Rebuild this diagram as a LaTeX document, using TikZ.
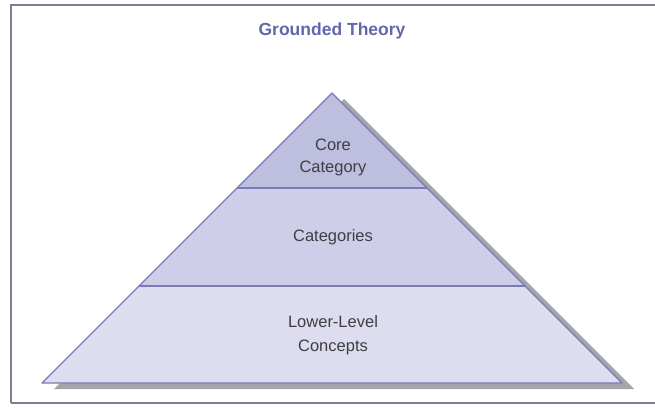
\documentclass[tikz,border=0pt]{standalone}
\usepackage{fontspec}
\setmainfont{Liberation Sans}
\usepackage{tikz}

\definecolor{edgeblue}{RGB}{122,122,182}
\definecolor{titleblue}{RGB}{98,102,172}
\definecolor{coreFill}{RGB}{190,190,222}
\definecolor{catFill}{RGB}{206,206,232}
\definecolor{lowFill}{RGB}{221,221,239}
\definecolor{shadowgray}{RGB}{164,164,170}
\definecolor{textgray}{RGB}{62,62,68}
\definecolor{framegray}{RGB}{125,125,150}

\begin{document}
\begin{tikzpicture}[x=1pt, y=-1pt]
		\useasboundingbox (0,0) rectangle (655,408);
		\draw[framegray, line width=1.4pt] (11,403) -- (11,5) -- (670,5);
		\draw[framegray, line width=1.4pt] (11,403) -- (670,403);
		
		\coordinate (apex) at (332,93);
		\coordinate (cl) at (237,188);
		\coordinate (cr) at (427,188);
		\coordinate (ml) at (139,286);
		\coordinate (mr) at (525,286);
		\coordinate (bl) at (42,383);
		\coordinate (br) at (622,383);
		
		% shadow
		\fill[shadowgray] ([shift={(12,6)}]apex) -- ([shift={(12,6)}]br) -- ([shift={(12,6)}]bl) -- cycle;
		
		\fill[lowFill] (ml) -- (mr) -- (br) -- (bl) -- cycle;
		\fill[catFill] (cl) -- (cr) -- (mr) -- (ml) -- cycle;
		\fill[coreFill] (apex) -- (cr) -- (cl) -- cycle;
		
		\draw[edgeblue, line width=1.2pt, line join=round] (apex) -- (br) -- (bl) -- cycle;
		\draw[edgeblue, line width=1.2pt] (cl) -- (cr);
		\draw[edgeblue, line width=1.2pt] (ml) -- (mr);
		
		\node[text=titleblue, font=\fontsize{17.5}{20}\selectfont\bfseries] (T) at (332,31) {Grounded Theory};
		\node[text=textgray, align=center, font=\fontsize{16.5}{22}\selectfont] (core) at (333,157) {Core\\Category};
		\node[text=textgray, font=\fontsize{16.5}{22}\selectfont] (cat) at (333,237) {Categories};
		\node[text=textgray, align=center, font=\fontsize{16.5}{24}\selectfont] (low) at (333,335) {Lower-Level\\Concepts};
		
	\end{tikzpicture}
\end{document}
